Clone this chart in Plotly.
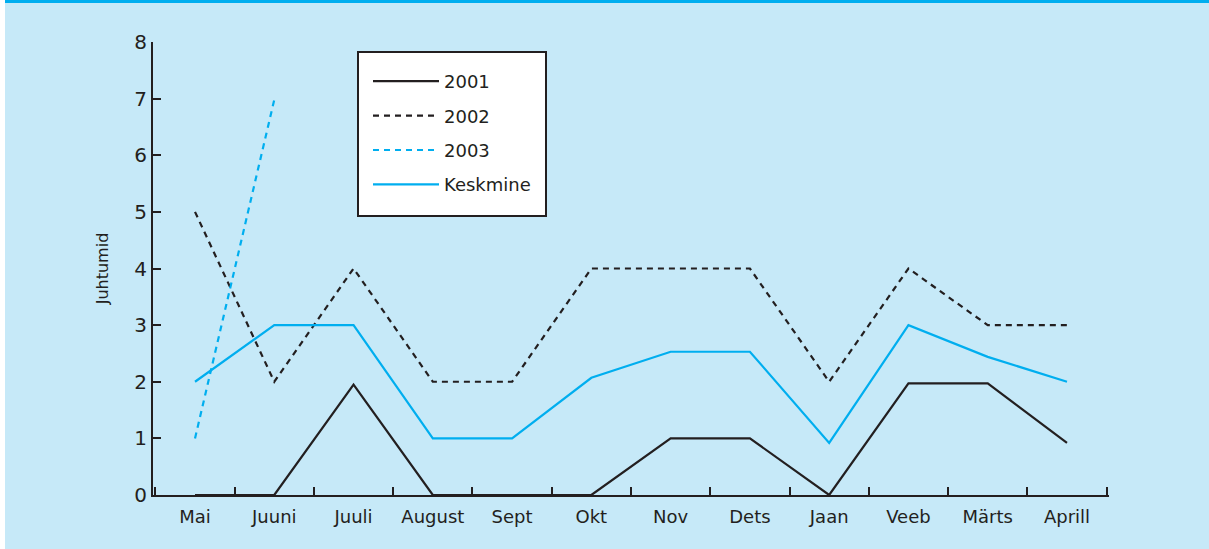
import plotly.graph_objects as go

months = ["Mai", "Juuni", "Juuli", "August", "Sept", "Okt", "Nov", "Dets", "Jaan", "Veeb", "Märts", "Aprill"]
y2001 = [0, 0, 1.95, 0, 0, 0, 1, 1, 0, 1.97, 1.97, 0.92]
y2002 = [5, 2, 4, 2, 2, 4, 4, 4, 2, 4, 3, 3]
y2003 = [1, 6.98]
keskmine = [2, 3, 3, 1, 1, 2.07, 2.53, 2.53, 0.92, 3, 2.44, 2]

BG = "#c6e9f8"
BLUE = "#00aeef"
DARK = "#231f20"
FONT = "DejaVu Sans, Liberation Sans, Arial, sans-serif"

fig = go.Figure()
fig.add_trace(go.Scatter(x=months, y=y2001, mode="lines", name="2001", legendgroup="a",
                         line=dict(color=DARK, width=2.2)))
fig.add_trace(go.Scatter(x=months, y=y2002, mode="lines", name="2002", legendgroup="b",
                         line=dict(color=DARK, width=2.2, dash="6px,5px")))
fig.add_trace(go.Scatter(x=months[:len(y2003)], y=y2003, mode="lines", name="2003", legendgroup="c",
                         line=dict(color=BLUE, width=2.2, dash="6px,5px")))
fig.add_trace(go.Scatter(x=months, y=keskmine, mode="lines", name="Keskmine", legendgroup="d",
                         line=dict(color=BLUE, width=2.2)))

L, R, T, B = 153, 100, 42, 54
W, H = 1209, 549
pw, ph = W - L - R, H - T - B

def px(xp):
    return (xp - L) / pw

def py(yp):
    return (H - B - yp) / ph

fig.update_layout(
    width=W, height=H,
    margin=dict(l=L, r=R, t=T, b=B, pad=0),
    paper_bgcolor=BG, plot_bgcolor=BG,
    font=dict(family=FONT, color=DARK, size=18),
    showlegend=True,
    legend=dict(x=px(368), y=py(63), xanchor="left", yanchor="top",
                bgcolor="rgba(0,0,0,0)", borderwidth=0,
                font=dict(size=18, family=FONT, color=DARK),
                tracegroupgap=8, itemwidth=66,
                traceorder="grouped"),
    xaxis=dict(
        type="category", categoryorder="array", categoryarray=months,
        range=[-0.53, 11.53],
        tickson="boundaries", ticks="inside", ticklen=8, tickwidth=1.5, tickcolor=DARK,
        showline=True, linecolor=DARK, linewidth=2, showgrid=False, zeroline=False,
        tickfont=dict(size=18, family=FONT, color=DARK), ticklabelstandoff=4,
    ),
    yaxis=dict(
        range=[0, 8], tickmode="array", tickvals=list(range(9)),
        ticks="inside", ticklen=8, tickwidth=1.5, tickcolor=DARK,
        showline=True, linecolor=DARK, linewidth=2, showgrid=False, zeroline=False,
        tickfont=dict(size=20, family=FONT, color=DARK),
        title=dict(text="Juhtumid", font=dict(size=16, family=FONT, color=DARK), standoff=22),
    ),
    shapes=[
        dict(type="rect", xref="paper", yref="paper", x0=px(0), x1=px(5), y0=py(H), y1=py(0),
             fillcolor="white", line=dict(width=0), layer="below"),
        dict(type="rect", xref="paper", yref="paper", x0=px(5), x1=px(W), y0=py(3), y1=py(0),
             fillcolor=BLUE, line=dict(width=0), layer="below"),
        dict(type="rect", xref="paper", yref="paper", x0=px(358), x1=px(546), y0=py(216), y1=py(52),
             fillcolor="white", line=dict(width=2, color=DARK), layer="below"),
    ],
)

fig.write_html("out.html", config={"displayModeBar": False},
               post_script="document.body.style.margin='0px';")
